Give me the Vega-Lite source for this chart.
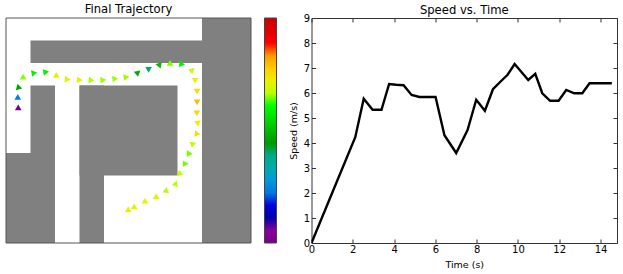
{
"$schema":"https://vega.github.io/schema/vega-lite/v6.json",
"padding":{"left":5,"top":3,"right":0,"bottom":0},
"background":"white",
"bounds":"flush",
"spacing":60.5,
"config":{"font":"DejaVu Sans","view":{"stroke":null},"title":{"font":"DejaVu Sans","fontSize":11.6,"fontWeight":"normal","offset":2,"color":"black"}},
"datasets":{
"walls":[
{"x0":8,"x1":10,"y0":0,"y1":10},
{"x0":1,"x1":9,"y0":1,"y1":2},
{"x0":0,"x1":2,"y0":6,"y1":10},
{"x0":1,"x1":2,"y0":3,"y1":10},
{"x0":3,"x1":7,"y0":3,"y1":7},
{"x0":3,"x1":4,"y0":3,"y1":10}
],
"frame":[{"x0":0,"x1":10,"y0":0,"y1":10}],
"run":[
{"t":0,"speed":0,"x":0.5,"y":3.97,"heading":0},
{"t":1.05,"speed":2.1,"x":0.48,"y":3.51,"heading":0},
{"t":2.12,"speed":4.23,"x":0.5,"y":3.05,"heading":-15},
{"t":2.53,"speed":5.77,"x":0.73,"y":2.67,"heading":120},
{"t":2.96,"speed":5.33,"x":1.16,"y":2.44,"heading":80},
{"t":3.39,"speed":5.33,"x":1.64,"y":2.4,"heading":80},
{"t":3.76,"speed":6.36,"x":2.05,"y":2.53,"heading":0},
{"t":4.1,"speed":6.33,"x":2.52,"y":2.73,"heading":95},
{"t":4.46,"speed":6.31,"x":3.01,"y":2.76,"heading":95},
{"t":4.85,"speed":5.92,"x":3.49,"y":2.77,"heading":95},
{"t":5.23,"speed":5.84,"x":3.97,"y":2.76,"heading":85},
{"t":5.63,"speed":5.84,"x":4.46,"y":2.7,"heading":85},
{"t":6.01,"speed":5.84,"x":4.92,"y":2.62,"heading":80},
{"t":6.44,"speed":4.31,"x":5.37,"y":2.49,"heading":170},
{"t":7.01,"speed":3.6,"x":5.82,"y":2.31,"heading":180},
{"t":7.56,"speed":4.52,"x":6.27,"y":2.13,"heading":160},
{"t":7.98,"speed":5.73,"x":6.73,"y":2.06,"heading":120},
{"t":8.4,"speed":5.29,"x":7.19,"y":2.06,"heading":100},
{"t":8.79,"speed":6.15,"x":7.54,"y":2.32,"heading":-70},
{"t":9.15,"speed":6.45,"x":7.72,"y":2.79,"heading":180},
{"t":9.5,"speed":6.73,"x":7.8,"y":3.27,"heading":180},
{"t":9.84,"speed":7.16,"x":7.8,"y":3.75,"heading":180},
{"t":10.17,"speed":6.84,"x":7.79,"y":4.24,"heading":180},
{"t":10.5,"speed":6.52,"x":7.83,"y":4.7,"heading":170},
{"t":10.84,"speed":6.77,"x":7.82,"y":5.16,"heading":100},
{"t":11.18,"speed":5.99,"x":7.65,"y":5.59,"heading":70},
{"t":11.56,"speed":5.69,"x":7.5,"y":6.03,"heading":90},
{"t":11.97,"speed":5.69,"x":7.34,"y":6.48,"heading":90},
{"t":12.34,"speed":6.12,"x":7.13,"y":6.93,"heading":110},
{"t":12.73,"speed":5.99,"x":6.93,"y":7.35,"heading":20},
{"t":13.12,"speed":5.99,"x":6.54,"y":7.64,"heading":10},
{"t":13.47,"speed":6.39,"x":6.13,"y":7.92,"heading":0},
{"t":13.82,"speed":6.39,"x":5.67,"y":8.12,"heading":0},
{"t":14.2,"speed":6.39,"x":5.23,"y":8.37,"heading":0},
{"t":14.55,"speed":6.39,"x":4.99,"y":8.49,"heading":0}
]
},
"hconcat":[
{
"title":"Final Trajectory",
"width":245,"height":225,
"layer":[
{"data":{"name":"walls"},"mark":{"type":"rect","color":"#808080"},
"encoding":{
"x":{"field":"x0","type":"quantitative","scale":{"domain":[0,10],"nice":false},"axis":null},
"x2":{"field":"x1"},
"y":{"field":"y0","type":"quantitative","scale":{"domain":[10,0],"nice":false},"axis":null},
"y2":{"field":"y1"}}},
{"data":{"name":"frame"},"mark":{"type":"rect","filled":false,"stroke":"#555555","strokeWidth":1},
"encoding":{
"x":{"field":"x0","type":"quantitative","scale":{"domain":[0,10],"nice":false},"axis":null},
"x2":{"field":"x1"},
"y":{"field":"y0","type":"quantitative","scale":{"domain":[10,0],"nice":false},"axis":null},
"y2":{"field":"y1"}}},
{"data":{"name":"run"},"mark":{"type":"point","shape":"triangle-up","filled":true,"size":44,"opacity":1},
"encoding":{
"x":{"field":"x","type":"quantitative","scale":{"domain":[0,10],"nice":false},"axis":null},
"y":{"field":"y","type":"quantitative","scale":{"domain":[10,0],"nice":false},"axis":null},
"angle":{"field":"heading","type":"quantitative","scale":null},
"color":{"field":"speed","type":"quantitative",
"scale":{"domain":[0,0.5,1,1.5,2,2.5,3,3.5,4,4.5,5,5.5,6,6.5,7,7.5,8,8.5,9],
"range":["#770088","#880099","#0000aa","#0000dd","#0077dd","#0099dd","#00aaaa","#00aa88","#009900","#00bb00","#00dd00","#00ff00","#bbff00","#eeee00","#ffcc00","#ff9900","#ff0000","#dd0000","#cc0000"]},
"legend":{"orient":"none","legendX":258.5,"legendY":0,"title":null,"labelExpr":"''","labelFontSize":0,"gradientLength":225,"gradientThickness":12,"gradientStrokeColor":"#444444","gradientStrokeWidth":1,"padding":0,"offset":0}}
}}
]
},
{
"title":{"text":"Speed vs. Time","offset":-4},
"width":305.5,"height":225,
"data":{"name":"run"},
"layer":[
{"mark":{"type":"line","color":"black","strokeWidth":2.4,"clip":true},
"encoding":{
"x":{"field":"t","type":"quantitative","scale":{"domain":[0,14.8],"nice":false},
"axis":{"title":"Time (s)","values":[0,2,4,6,8,10,12,14],"grid":false,"tickSize":-4,"labelPadding":5,"labelFontSize":10,"titleFontSize":9.5,"titleFontWeight":"normal","labelColor":"black","titleColor":"black","domainColor":"#333333","tickColor":"#333333","titlePadding":5,"labelFlush":false}},
"y":{"field":"speed","type":"quantitative","scale":{"domain":[0,9],"nice":false},
"axis":{"title":"Speed (m/s)","values":[0,1,2,3,4,5,6,7,8,9],"grid":false,"tickSize":-4,"labelPadding":6,"labelFontSize":10,"titleFontSize":9.5,"titleFontWeight":"normal","labelColor":"black","titleColor":"black","domainColor":"#333333","tickColor":"#333333","titlePadding":5}}
}},
{"mark":{"type":"line","opacity":0},
"encoding":{
"x":{"field":"t","type":"quantitative","scale":{"domain":[0,14.8],"nice":false},
"axis":{"orient":"top","title":null,"labels":false,"values":[0,2,4,6,8,10,12,14],"grid":false,"tickSize":-4,"domainColor":"#333333","tickColor":"#333333"}},
"y":{"field":"speed","type":"quantitative","scale":{"domain":[0,9],"nice":false},
"axis":{"orient":"right","title":null,"labels":false,"values":[0,1,2,3,4,5,6,7,8,9],"grid":false,"tickSize":-4,"domainColor":"#333333","tickColor":"#333333"}}
}}
],
"resolve":{"axis":{"x":"independent","y":"independent"}}
}
],
"resolve":{"scale":{"color":"independent"}}
}
